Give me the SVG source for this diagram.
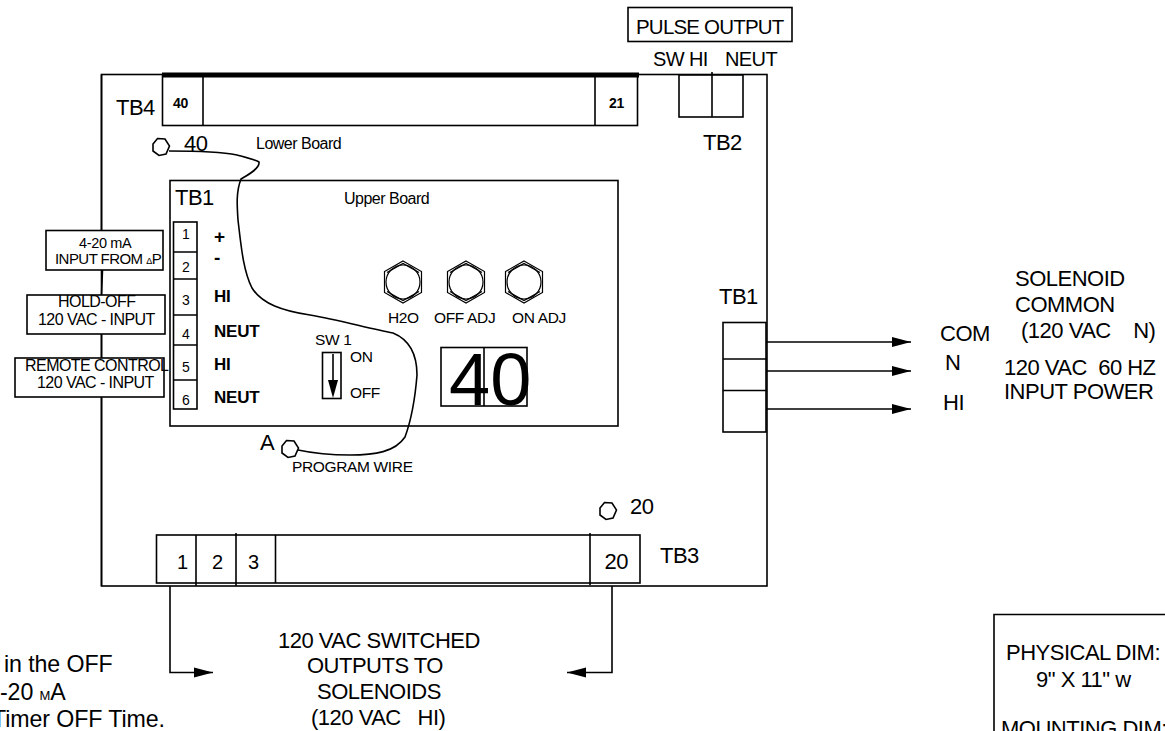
<svg xmlns="http://www.w3.org/2000/svg" width="1165" height="731" viewBox="0 0 1165 731">
<style>
text{font-family:"Liberation Sans",Arial,sans-serif;fill:#000;white-space:pre}
.b{fill:#fff;stroke:#000;stroke-width:1.6}
.n{fill:none;stroke:#000;stroke-width:1.6}
.t21{font-size:22px;letter-spacing:-.5px}
.t19{font-size:20px;letter-spacing:-.6px}
.t15{font-size:16px;letter-spacing:-.55px}
.t14{font-size:15.500px;letter-spacing:-.35px}
.t13{font-size:14px}
.big{font-size:23.200px;letter-spacing:-.1px}
.bd{font-weight:bold;font-size:17px;letter-spacing:-.2px}
.bs{font-weight:bold;font-size:14px;letter-spacing:-.4px}
.hx{fill:none;stroke:#000;stroke-width:1.2}
</style>
<defs>
<marker id="ah" markerUnits="userSpaceOnUse" markerWidth="20" markerHeight="12" refX="19" refY="6" orient="auto"><path d="M0 1L19 6L0 11Z" fill="#000"/></marker>
<g id="knob"><polygon class="hx" points="0,-21 18.500,-10.500 18.500,10.500 0,21 -18.500,10.500 -18.500,-10.500"/><polyline class="hx" points="-16,-9.500 0,-18.500 16,-9.500"/><polyline class="hx" points="-16,9.500 0,18.500 16,9.500"/><circle class="hx" r="17"/></g>
<polygon id="hex" class="n" points="-3.500,-8.500 4,-8 8.500,-1 5,7 -2,8.500 -8,4 -8,-3"/>
</defs>
<g id="chassis"><rect class="n" x="101.500" y="74.500" width="665.500" height="511.500"/></g>
<g id="upper-board"><rect class="n" x="170" y="180.500" width="448" height="245.500"/>
<text class="t14" x="344" y="204" style="font-size:16px;letter-spacing:-.5px">Upper Board</text><text class="t21" x="175" y="205">TB1</text></g>
<g id="tb4"><rect class="b" x="162.500" y="75" width="475" height="50.500"/><line x1="203" y1="75" x2="203" y2="125" class="n"/><line x1="595" y1="75" x2="595" y2="125" class="n"/><line x1="162" y1="75" x2="639" y2="75" stroke="#000" stroke-width="5"/>
<text class="t21" x="116" y="115">TB4</text><text class="bs" x="173" y="108">40</text><text class="bs" x="609" y="108">21</text></g>
<g id="tb2"><rect class="b" x="679" y="75" width="64" height="42"/><line x1="712" y1="72" x2="712" y2="117" class="n"/>
<text class="t19" x="653" y="66">SW HI</text><text class="t19" x="725" y="66">NEUT</text><text class="t21" x="703" y="150">TB2</text></g>
<g id="pulse-output"><rect class="b" x="628" y="7.500" width="164" height="34"/><text class="t19" x="636" y="34" style="font-size:20.500px;letter-spacing:-.8px">PULSE OUTPUT</text></g>
<g id="tb1-left"><rect class="b" x="173.500" y="222" width="23.500" height="187"/><path class="n" d="M173 252H197M173 279H197M173 315H197M173 345H197M173 380H197"/>
<text class="t13" x="182" y="239">1</text><text class="t13" x="182" y="272">2</text><text class="t13" x="182" y="305">3</text><text class="t13" x="182" y="339">4</text><text class="t13" x="182" y="372">5</text><text class="t13" x="182" y="405">6</text>
<text class="bd" x="214" y="243" style="font-size:19px">+</text><text class="bd" x="214" y="264" style="font-size:19px">-</text><text class="bd" x="214" y="302">HI</text><text class="bd" x="214" y="337">NEUT</text><text class="bd" x="214" y="370">HI</text><text class="bd" x="214" y="403">NEUT</text></g>
<g id="input-4-20"><rect class="b" x="46" y="230.500" width="117" height="39.500"/><text class="t14" x="79" y="248" style="font-size:14.500px">4-20 mA</text><text class="t14" x="55" y="264" style="font-size:15px;letter-spacing:-.55px">INPUT FROM <tspan font-size="9">Δ</tspan>P</text></g>
<g id="input-hold-off"><rect class="b" x="27" y="295" width="138" height="39"/><text class="t15" x="58" y="307">HOLD-OFF</text><text class="t15" x="38" y="325">120 VAC - INPUT</text></g>
<g id="input-remote"><rect class="b" x="15" y="358" width="149" height="39"/><text class="t15" x="25" y="371">REMOTE CONTROL</text><text class="t15" x="37" y="388">120 VAC - INPUT</text></g>
<g id="knobs"><use href="#knob" x="403" y="282"/><use href="#knob" x="466" y="282"/><use href="#knob" x="524" y="282"/>
<text class="t14" x="388" y="323">H2O</text><text class="t14" x="434" y="323">OFF ADJ</text><text class="t14" x="512" y="323">ON ADJ</text></g>
<g id="sw1"><rect class="n" x="322.500" y="352.500" width="18.500" height="46"/><line x1="333" y1="354" x2="333" y2="384" class="n"/><path d="M328 380H338L333 398Z" fill="#000"/>
<text class="t14" x="315" y="345">SW 1</text><text class="t14" x="350" y="362">ON</text><text class="t14" x="350" y="398">OFF</text></g>
<g id="display"><rect class="n" x="441" y="347.500" width="86" height="58.500"/><line class="n" x1="484" y1="347" x2="484" y2="406"/><text x="449" y="405" style="font-size:74px">40</text></g>
<g id="tb1-right"><rect class="b" x="723" y="322.500" width="43" height="109.500"/><path class="n" d="M723 359H767M723 390.500H767"/><text class="t21" x="719" y="304">TB1</text></g>
<g id="tb3"><rect class="b" x="156.500" y="535" width="483.500" height="48"/><path class="n" d="M196 535V586M236 533V586M275.500 535V583M590 533V585"/>
<text class="t19" x="177" y="569">1</text><text class="t19" x="212" y="569">2</text><text class="t19" x="248" y="569">3</text><text class="t21" x="604.500" y="569">20</text><text class="t21" x="660" y="563">TB3</text></g>
<g id="terminal-40"><use href="#hex" x="161" y="147"/><text class="t21" x="184" y="151">40</text><text class="t14" x="256" y="149" style="font-size:16px;letter-spacing:-.5px">Lower Board</text></g>
<g id="terminal-20"><use href="#hex" x="608" y="511"/><text class="t21" x="630" y="514">20</text></g>
<g id="terminal-a"><use href="#hex" x="290" y="449"/><text class="t21" x="260" y="450">A</text><text class="t14" x="292" y="472">PROGRAM WIRE</text></g>
<g id="connectors">
<path class="n" d="M169 151C190 151 222 152 237 155C248 158 256 160 259 162C260 168 250 174 241 179C236 192 237 205 238 220C241 245 243 270 252 288C262 304 283 311 310 315C340 320 370 329 393 333C410 340 417 355 417 375C415 400 412 418 405 437C395 452 375 455 350 455C330 455 312 453 298 450"/>
<path class="n" d="M101.500 74.500V230M102.500 270L101.500 295M101.500 334V358M101.500 397V586"/>
<line class="n" x1="766" y1="342" x2="911" y2="342" marker-end="url(#ah)"/>
<line class="n" x1="766" y1="371" x2="911" y2="371" marker-end="url(#ah)"/>
<line class="n" x1="766" y1="409" x2="911" y2="409" marker-end="url(#ah)"/>
<path class="n" d="M170 586V672.500H213" marker-end="url(#ah)"/>
<path class="n" d="M612 586V672.500H567" marker-end="url(#ah)"/>
</g>
<g id="labels">
<text class="t21" x="940" y="341">COM</text><text class="t21" x="945" y="370">N</text><text class="t21" x="943" y="410">HI</text>
<text class="t21" x="1015" y="286">SOLENOID</text><text class="t21" x="1015" y="312">COMMON</text><text class="t21" x="1021" y="338">(120 VAC    N)</text>
<text class="t21" x="1004" y="375">120 VAC  60 HZ</text><text class="t21" x="1004" y="399">INPUT POWER</text>
<text class="t21" x="278" y="648">120 VAC SWITCHED</text><text class="t21" x="307" y="673">OUTPUTS TO</text><text class="t21" x="317" y="699">SOLENOIDS</text><text class="t21" x="311" y="725">(120 VAC   HI)</text>
<text class="big" x="4" y="672">in the OFF</text><text class="big" x="0" y="700">-20 <tspan font-size="13">M</tspan>A</text><text class="big" x="-8" y="727">Timer OFF Time.</text>
</g>
<g id="dimensions"><path class="n" d="M994 731V614.500H1166"/><text class="t21" x="1006" y="660">PHYSICAL DIM:</text><text class="t21" x="1036" y="687">9" X 11" w</text><text class="t21" x="1001" y="736">MOUNTING DIM:</text></g>
</svg>
